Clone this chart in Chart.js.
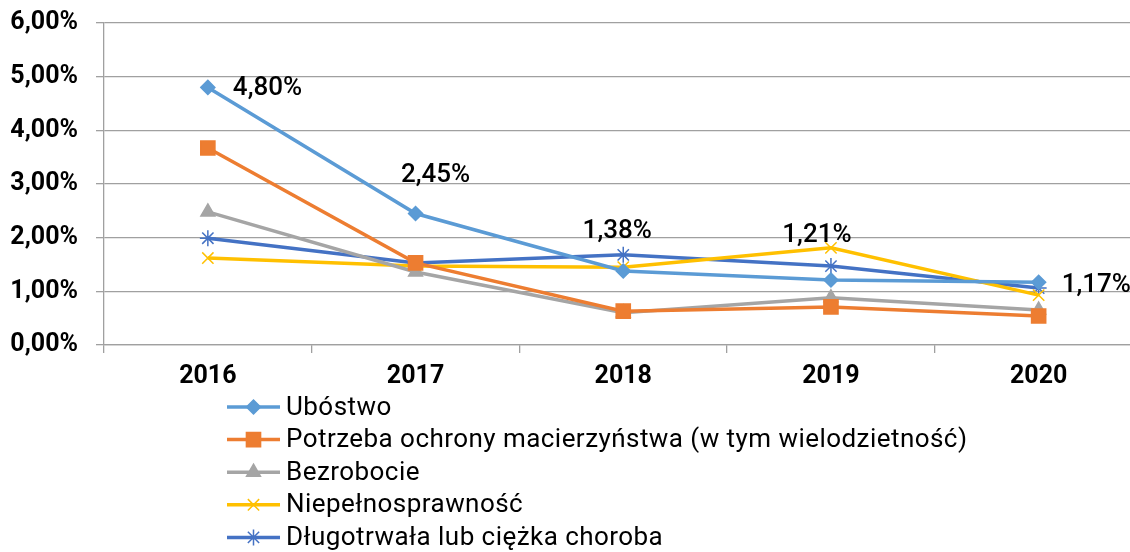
<!DOCTYPE html>
<html>
<head>
<meta charset="utf-8">
<script src="https://cdn.jsdelivr.net/npm/chart.js@4"></script>
<style>
  html, body { margin: 0; padding: 0; background: #fff; overflow: hidden; }
  #wrap { width: 1154px; height: 552px; position: relative; }
</style>
</head>
<body>
<div id="wrap"><canvas id="chartLine"></canvas></div>
<script>
var ctx = document.getElementById('chartLine').getContext('2d');

const years = ['2016', '2017', '2018', '2019', '2020'];
const ubostwo = [4.80, 2.45, 1.38, 1.21, 1.17];
const macierzynstwo = [3.67, 1.53, 0.63, 0.71, 0.54];
const bezrobocie = [2.48, 1.36, 0.60, 0.88, 0.65];
const niepelnosprawnosc = [1.62, 1.47, 1.45, 1.81, 0.93];
const choroba = [1.99, 1.53, 1.68, 1.47, 1.06];
const yTicks = [0, 1, 2, 3, 4, 5, 6];

const FONT = 'Roboto';
const fmt = v => v.toFixed(2).replace('.', ',') + '%';

const series = [
    { label: 'Ubóstwo', color: '#5B9BD5', data: ubostwo, style: 'rectRot', r: 7 },
    { label: 'Potrzeba ochrony macierzyństwa (w tym wielodzietność)', color: '#ED7D31', data: macierzynstwo, style: 'rect', r: 10 },
    { label: 'Bezrobocie', color: '#A5A5A5', data: bezrobocie, style: 'triangle', r: 8 },
    { label: 'Niepełnosprawność', color: '#FFC000', data: niepelnosprawnosc, style: 'crossRot', r: 8 },
    { label: 'Długotrwała lub ciężka choroba', color: '#4472C4', data: choroba, style: 'star', r: 8 }
];

// label placement for the Ubóstwo values: [dx, dy, align]
const labelPos = [[25, 1, 'left'], [20, -38, 'center'], [-6, -39, 'center'], [-14, -45, 'center'], [23, 3, 'left']];

const valueLabels = {
    id: 'valueLabels',
    afterDatasetsDraw(chart) {
        const c = chart.ctx;
        const meta = chart.getDatasetMeta(0);
        c.save();
        c.font = '500 26px ' + FONT;
        c.fillStyle = '#000';
        c.textBaseline = 'middle';
        meta.data.forEach((pt, i) => {
            const p = labelPos[i];
            c.textAlign = p[2];
            c.fillText(fmt(ubostwo[i]), pt.x + p[0], pt.y + p[1]);
        });
        c.restore();
    }
};

const listLegend = {
    id: 'listLegend',
    afterDraw(chart) {
        const c = chart.ctx;
        c.save();
        c.font = '26px ' + FONT;
        c.letterSpacing = '0.45px';
        c.textBaseline = 'middle';
        c.textAlign = 'left';
        chart.data.datasets.forEach((ds, i) => {
            const y = 407 + i * 32.6;
            c.strokeStyle = ds.borderColor;
            c.fillStyle = ds.borderColor;
            c.lineWidth = 3.5;
            c.beginPath();
            c.moveTo(227, y);
            c.lineTo(280, y);
            c.stroke();
            c.lineWidth = 1.5;
            Chart.helpers.drawPoint(c, { pointStyle: ds.pointStyle, radius: ds.pointRadius, borderWidth: 1.5, rotation: 0 }, 253.5, y);
            c.fillStyle = '#000';
            c.fillText(ds.label, 286, y + 1);
        });
        c.restore();
    }
};

var chart = new Chart(ctx, {
    type: 'line',
    data: {
        labels: years,
        datasets: series.map(s => ({
            label: s.label,
            data: s.data,
            borderColor: s.color,
            backgroundColor: s.color,
            borderWidth: 3.5,
            pointStyle: s.style,
            pointRadius: s.r,
            pointBorderWidth: 1.5,
            pointHoverRadius: s.r,
            tension: 0
        }))
    },
    options: {
        responsive: true,
        maintainAspectRatio: false,
        animation: false,
        layout: { padding: { top: 23, right: 2, left: 0, bottom: 0 } },
        plugins: {
            legend: { display: false },
            tooltip: { enabled: false }
        },
        scales: {
            x: {
                offset: true,
                grid: { offset: true, drawOnChartArea: false, color: '#A0A0A0', tickLength: 8, lineWidth: 1.3 },
                border: { color: '#A0A0A0', width: 1.3 },
                ticks: { color: '#000', font: { family: FONT, size: 25, weight: 'bold' }, padding: 9 },
                afterFit: s => { s.height = 207; s.paddingLeft = 0; s.paddingRight = 0; }
            },
            y: {
                min: 0,
                max: 6,
                afterBuildTicks: s => { s.ticks = yTicks.map(v => ({ value: v })); },
                grid: { color: '#A0A0A0', tickLength: 8, lineWidth: 1.3 },
                border: { color: '#A0A0A0', width: 1.3 },
                ticks: { color: '#000', font: { family: FONT, size: 25, weight: 'bold' }, padding: 18, callback: v => fmt(v) },
                afterFit: s => { s.width = 104; s.paddingTop = 0; s.paddingBottom = 0; }
            }
        }
    },
    plugins: [valueLabels, listLegend]
});
</script>
</body>
</html>
